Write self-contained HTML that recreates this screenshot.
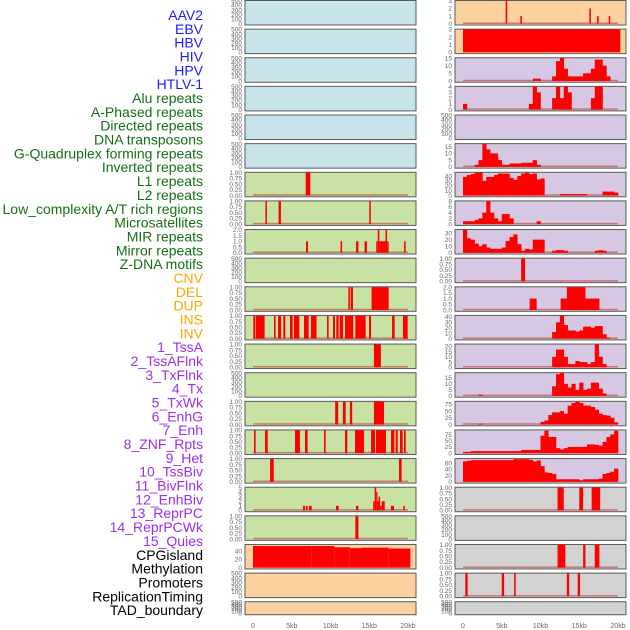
<!DOCTYPE html>
<html><head><meta charset="utf-8"><style>
html,body{margin:0;padding:0;background:#fff;}
svg{display:block;font-family:"Liberation Sans",sans-serif;}
</style></head><body>
<svg id="chart" width="630" height="630" viewBox="0 0 630 630"></svg>
<script>
const labels=["AAV2","EBV","HBV","HIV","HPV","HTLV-1","Alu repeats","A-Phased repeats","Directed repeats","DNA transposons","G-Quadruplex forming repeats","Inverted repeats","L1 repeats","L2 repeats","Low_complexity A/T rich regions","Microsatellites","MIR repeats","Mirror repeats","Z-DNA motifs","CNV","DEL","DUP","INS","INV","1_TssA","2_TssAFlnk","3_TxFlnk","4_Tx","5_TxWk","6_EnhG","7_Enh","8_ZNF_Rpts","9_Het","10_TssBiv","11_BivFlnk","12_EnhBiv","13_ReprPC","14_ReprPCWk","15_Quies","CPGisland","Methylation","Promoters","ReplicationTiming","TAD_boundary"];
const labelGroups=[6,13,5,15,5];
const groupColors=["#1c1cff","#157015","#ffa500","#9b2ff0","#000000"];
const xTicks=[0,5,10,15,20];
const xTickLabels=["0","5kb","10kb","15kb","20kb"];
const leftBg=["b","b","b","b","b","b","g","g","g","g","g","g","g","g","g","g","g","g","g","o","o","o"];
const rightBg=["o","o","p","p","p","p","p","p","p","p","p","p","p","p","p","p","p","y","y","y","y","y"];
const bgColors={b:"#c7e4eb",g:"#c8e2a4",o:"#fdd09f",p:"#d6c7e2",y:"#d2d2d2"};
const ticks01=[0,0.25,0.5,0.75,1];
const ticks500=[0,100,200,300,400,500];
const ticks2=[0,0.5,1,1.5,2];
// left column: spans [startKb,endKb,value]
const L6=[[6.8,7.4,1]];
const L7=[[1.6,1.8,1],[3.3,3.6,1],[15.0,15.2,1]];
const L8=[[6.85,7.1,1],[11.3,11.5,1],[13.3,13.6,1],[14.4,14.7,1],[15.9,16.1,1],[16.1,16.3,2],[16.3,17.1,1],[17.1,17.3,2],[17.3,17.5,1],[19.5,19.7,1]];
const L10=[[12.3,12.5,1],[12.6,12.9,1],[15.3,17.5,1]];
const L11=[[0.04,0.26,1],[0.34,1.5,1],[2.71,2.92,1],[3.23,3.61,1],[3.91,4.17,1],[4.77,5.12,1],[5.29,5.98,1],[6.58,7.18,1],[7.48,8.2,1],[9.55,9.76,1],[10.32,10.58,1],[10.75,11.05,1],[11.18,11.61,1],[11.87,12.94,1],[13.2,14.54,1],[14.97,15.23,1],[17.94,18.28,1],[19.35,19.96,1]];
const L12=[[15.6,16.5,1]];
const L14=[[10.6,11.0,1],[11.6,11.96,1],[12.5,12.8,1],[15.6,16.9,1]];
const L15=[[0.13,0.34,1],[1.55,1.9,1],[5.42,6.06,1],[6.71,7.05,1],[9.16,9.37,1],[11.87,12.17,1],[13.16,14.32,1],[15.23,15.74,1],[15.87,17.16,1],[17.81,18.24,1],[18.41,18.67,1],[18.97,19.31,1],[19.48,19.7,1]];
const L16=[[2.2,2.67,1],[18.84,19.18,1]];
const L17=[[6.45,6.71,1],[6.84,7.05,1],[7.22,7.57,1],[10.71,11.05,1],[13.29,13.59,1],[15.5,15.7,2],[15.7,15.9,5],[15.9,16.0,4],[16.0,16.2,2],[16.2,16.4,3],[16.4,16.6,1],[16.6,17.0,2],[17.8,18.2,1],[19.4,19.6,1]];
const L18=[[13.2,13.6,1]];
const L19=[[0,7.5,52],[7.5,10.5,52],[10.5,12.5,49],[12.5,14,47],[14,17.5,48],[17.5,20.3,46]];
// right column spans
const R0=[[5.5,5.7,3],[7.4,7.6,1],[16.3,16.5,2],[17.3,17.5,1],[18.8,19.0,1]];
const R1=[[0,20.3,3]];
const R9=[[7.5,8.0,1]];
const R10=[[8.6,9.5,1],[12.6,13.4,1],[13.4,15.8,2],[15.8,17.6,1]];
const R17=[[12.2,13.0,1],[15.0,15.5,1],[16.6,17.7,1]];
const R19=[[12.2,13.2,1],[15.5,15.8,1],[17.0,17.6,1]];
const R20=[[0.3,0.6,1],[5.0,5.3,1],[6.6,6.8,1],[13.4,13.7,1],[14.8,15.1,1]];
// right column bins (0.5kb each, 0..20kb)
const R2=[0,0,0,0,0,0,0,0,0,0,0,0,0,0,0,0,0,0,1.5,1.5,0,0,0,3,13,15,8,3,3,3,3,5,5,8,14,14,10,3,0,0];
const R3=[1,0,0,0,0,0,0,0,0,0,0,0,0,0,0,0,0,1,4,3,0,0,0,2,4,2,4,3,0,0,0,0,0,2,4,4,0,0,0,0];
const R5=[0,0,0,1.5,5,17,13,10,10,5,1.5,1.5,2.5,2.5,2.5,3,3,3,5,1.5,0,0,0,0,0,0,0,0,0,0,0,0,0,0,0,0,0,0,0,0];
const R6=[38,42,44,47,47,30,38,38,42,45,45,45,36,32,40,45,47,44,45,33,35,0,0,0,0,3,3,3,3,3,3,3,0,0,0,0,8,8,8,6];
const R7=[1,1,1,1.5,2,4,8,4,2,1,3.5,3.5,2,0,0,0,0,0,0,1,0,0,0,0,0,0,0,0,0,0,0,0,0,0,0,0,0,0,0,0];
const R8=[35,22,20,14,10,13,8,6,6,6,8,18,24,28,13,3,6,5,20,20,20,0,0,3,4,4,3,0,0,0,0,0,0,0,3,4,3,0,0,0];
const R11=[0,0,0,0,0,0,0,0,0,0,0,0,0,0,0,0,0,0,0,0,0,0,0,12,30,42,25,15,15,13,15,22,22,20,23,23,8,2,0,0];
const R12=[0,0,0,0,0,0,0,0,0,0,0,0,0,0,0,0,0,0,0,0,0,0,0,10,17,17,10,3,3,6,5,5,3,5,22,10,3,0,0,0];
const R13=[0,0,0,0,1,0,0,0,0,0,0,0,0,0,0,0,0,0,0,0,0,0,0,8,18,19,10,7,10,5,11,5,6,11,11,6,2,0,0,0];
const R14=[0,0,0,0,3,0,0,0,0,0,0,0,0,0,0,0,0,0,0,0,10,15,35,45,45,50,40,70,80,85,80,70,70,65,55,40,35,33,25,8];
const R15=[5,5,8,8,8,8,8,8,8,8,8,8,8,8,8,13,13,13,13,13,70,90,65,65,20,15,20,25,25,25,25,25,35,35,33,30,45,65,75,90];
const R16=[65,67,69,69,69,69,69,69,69,69,69,69,69,72,72,72,72,70,65,68,50,30,28,25,8,8,8,8,8,8,5,8,8,8,8,10,25,28,32,42];

const NS="http://www.w3.org/2000/svg";
const svg=document.getElementById('chart');
function mk(tag,attrs,parent){const e=document.createElementNS(NS,tag);for(const k in attrs)e.setAttribute(k,attrs[k]);(parent||svg).appendChild(e);return e;}

// labels
let li=0;
labelGroups.forEach((n,g)=>{for(let i=0;i<n;i++){const t=mk('text',{x:203,y:15+li*13.84+5,'text-anchor':'end','font-size':14,fill:groupColors[g]});t.textContent=labels[li];

li++;}});

const rowTop=r=>r*28.63;
const rowH=r=>r===21?13:24.5;
function xScale(col,kb){return (col===0?253:463)+kb*7.75;}
function yScale(r,v,ymax){const b=rowTop(r)+rowH(r)-0.8;return b-(v/ymax)*(rowH(r)-1.6);}

const left={6:[L6,1,ticks01],7:[L7,1,ticks01],8:[L8,2,ticks2],10:[L10,1,ticks01],11:[L11,1,ticks01],12:[L12,1,ticks01],14:[L14,1,ticks01],15:[L15,1,ticks01],16:[L16,1,ticks01],17:[L17,5,[0,1,2,3,4,5]],18:[L18,1,ticks01],19:[L19,55,[0,20,40]]};
const rightSpans={0:[R0,3,[0,1,2,3]],1:[R1,3,[0,1,2,3]],9:[R9,1,ticks01],10:[R10,2,ticks2],17:[R17,1,ticks01],19:[R19,1,ticks01],20:[R20,1,ticks01]};
const rightBins={2:[R2,15,[0,5,10,15]],3:[R3,4,[0,1,2,3,4]],5:[R5,17,[0,5,10,15]],6:[R6,47,[0,10,20,30,40]],7:[R7,8,[0,2,4,6,8]],8:[R8,35,[0,10,20,30]],11:[R11,42,[0,10,20,30,40]],12:[R12,22,[0,5,10,15,20]],13:[R13,19,[0,5,10,15]],14:[R14,85,[0,25,50,75]],15:[R15,92,[0,25,50,75]],16:[R16,73,[0,20,40,60]]};

function fmt(v,tks){const dec=tks.some(t=>t%1!==0);if(!dec)return String(v);return tks.some(t=>(t*100)%10!==0)?v.toFixed(2):v.toFixed(1);}

for(let c=0;c<2;c++){
 for(let r=0;r<22;r++){
  const x0=c===0?245:455, top=rowTop(r), h=rowH(r);
  const bg=(c===0?leftBg:rightBg)[r];
  const g=mk('g',{});
  
  
  mk('rect',{x:x0,y:top+0.5,width:171,height:h,fill:bgColors[bg],stroke:'#5a5a5a','stroke-width':1},g);
  let spec=null,bins=false;
  if(c===0&&left[r])spec=left[r];
  if(c===1&&rightSpans[r])spec=rightSpans[r];
  if(c===1&&rightBins[r]){spec=rightBins[r];bins=true;}
  const ymax=spec?spec[1]:500, tks=spec?spec[2]:ticks500;
  tks.forEach(t=>{const tt=mk('text',{x:x0-3,y:yScale(r,t,ymax)+2.3,'text-anchor':'end','font-size':6.5,fill:'#666'},g);tt.textContent=fmt(t,tks);
   
   });
  if(spec){
   const data=spec[0];
   if(!(c===0&&r===19)&&!(c===1&&r===1))mk('line',{x1:xScale(c,0),x2:xScale(c,20),y1:yScale(r,0,ymax)-0.5,y2:yScale(r,0,ymax)-0.5,stroke:'#c0524f','stroke-width':1.5,'stroke-opacity':0.7},g);
   if(bins){
    data.forEach((v,i)=>{if(v<=0)return;const y=yScale(r,v,ymax);const b=mk('rect',{x:xScale(c,i*0.5),y:y,width:0.5*7.75+0.3,height:yScale(r,0,ymax)-y,fill:'#ff0000'},g);
     
     });
   }else{
    data.forEach(s=>{const y=yScale(r,s[2],ymax);const b=mk('rect',{x:xScale(c,s[0]),y:y,width:Math.max(1.2,(s[1]-s[0])*7.75),height:yScale(r,0,ymax)-y,fill:'#ff0000'},g);
     
     });
   }
  }
 }
 xTicks.forEach((k,i)=>{const t=mk('text',{x:xScale(c,k),y:628,'text-anchor':'middle','font-size':7,fill:'#666'});t.textContent=xTickLabels[i];
  
  });
}
</script>
</body></html>
